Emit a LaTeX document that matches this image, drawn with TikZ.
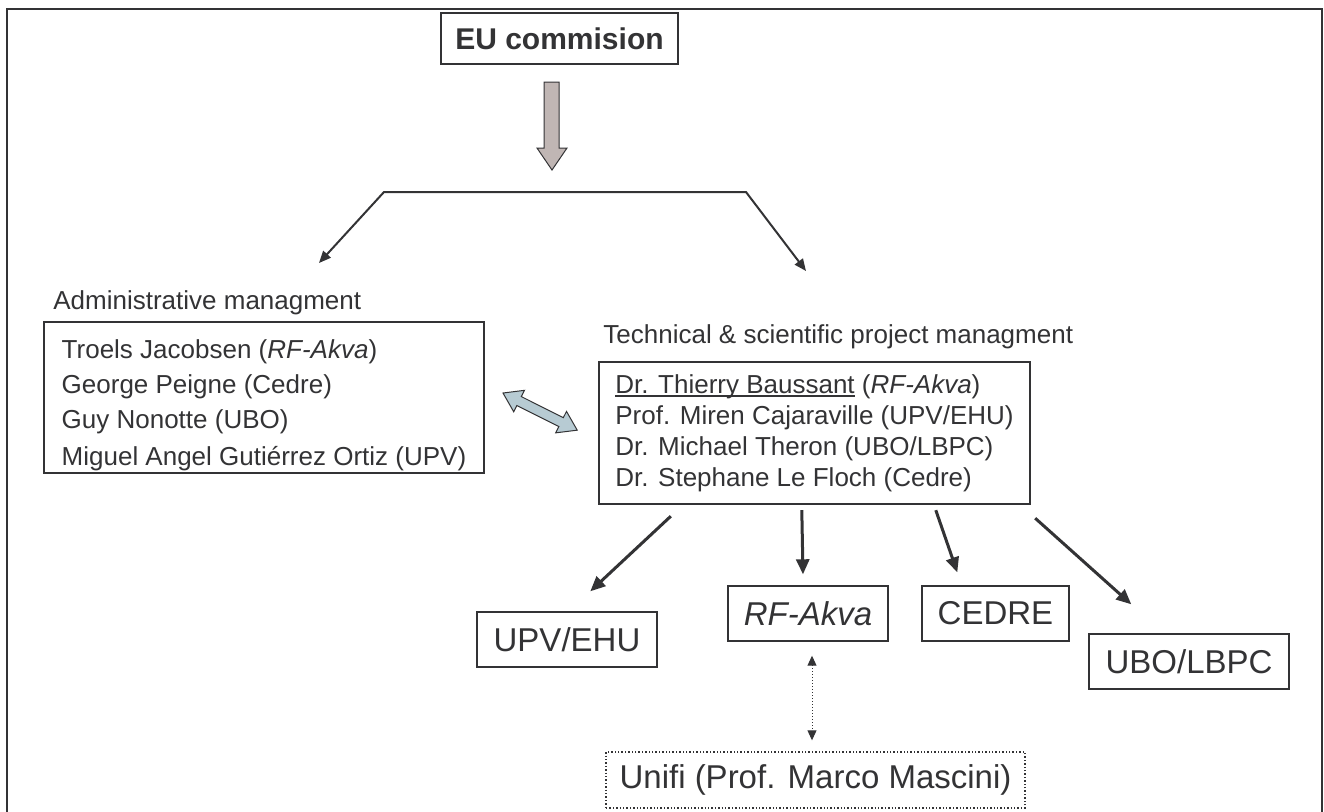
\documentclass[tikz,border=0pt]{standalone}
\usepackage{fontspec}
\setmainfont{Liberation Sans}
\usetikzlibrary{arrows.meta,calc}
\definecolor{ink}{RGB}{51,51,53}
\definecolor{greyarrow}{RGB}{192,182,180}
\definecolor{bluearrow}{RGB}{183,203,211}
\newcommand{\undertext}[1]{\leavevmode\setbox0\hbox{#1}\rlap{\rule[-1.7pt]{\wd0}{0.6pt}}\box0\relax}

\begin{document}
\begin{tikzpicture}[x=0.5pt, y=-0.5pt, color=ink, text=ink,
  box/.style = {draw, line width=0.7pt, inner sep=0pt, minimum height=27.5pt, font=\fontsize{16.5}{20}\selectfont},
  bigbox/.style = {draw, inner sep=0pt, align=left},
  lbl/.style = {anchor=west, inner sep=0pt, font=\fontsize{13}{15.5}\selectfont},
  main/.style = {line width=1.5pt, -{Triangle[length=7.5pt,width=6.5pt]}},
  split/.style = {line width=1pt, {Triangle[length=6pt,width=5pt]}-{Triangle[length=6pt,width=5pt]}},
  link/.style = {line width=0.5pt, densely dotted, {Triangle[length=5pt,width=4.5pt]}-{Triangle[length=5pt,width=4.5pt]}}]
\useasboundingbox (0,0) rectangle (1324,811);
\draw[line width=1.2pt] (7,9) rectangle (1322,830);

% top
\node[box, font=\bfseries\fontsize{15}{18}\selectfont, minimum width=118.5pt, minimum height=25.5pt] (eu) at (559.5,38.5) {EU commision};
\draw[line width=0.5pt, fill=greyarrow] (544,82) -- (559,82) -- (559,148) -- (567,148) -- (552,170) -- (537,148) -- (544,148) -- cycle;
\coordinate (bl) at (384,192);
\coordinate (br) at (746,192);
\coordinate (toadmin) at (319,263);
\coordinate (totech) at (806,271);
\draw[split] (toadmin) -- (bl) -- (br) -- (totech);

% management
\node[lbl] (adminlbl) at (53,303) {Administrative managment};
\node[bigbox, line width=1pt, minimum width=220.25pt, minimum height=75.5pt, font=\fontsize{13}{17.5}\selectfont] (admin) at (264,397.5)
  {\rule{0pt}{17pt}Troels Jacobsen (\textit{RF-Akva})\\ George Peigne (Cedre)\\ Guy Nonotte (UBO)\\[1pt] Miguel Angel Guti\'errez Ortiz (UPV)};
\node[lbl] (techlbl) at (603,337) {Technical \& scientific project managment};
\node[bigbox, line width=1.2pt, minimum width=215.5pt, minimum height=71pt, font=\fontsize{13}{15.5}\selectfont] (tech) at (814.5,433)
  {\undertext{Dr. Thierry Baussant} (\textit{RF-Akva})\\ Prof. Miren Cajaraville (UPV/EHU)\\ Dr. Michael Theron (UBO/LBPC)\\ Dr. Stephane Le Floch (Cedre)};
\begin{scope}[shift={(503,393)}, rotate=-26.6]
  \draw[line width=0.5pt, fill=bluearrow] (0,0) -- (18,-12) -- (18,-5) -- (65,-5) -- (65,-12) -- (83,0) -- (65,12) -- (65,5) -- (18,5) -- (18,12) -- cycle;
\end{scope}

% partners
\node[box, minimum width=90pt] (upv) at (567,639.5) {UPV/EHU};
\node[box, minimum width=80pt] (rfakva) at (808,613.5) {\textit{RF-Akva}};
\node[box, minimum width=73.5pt] (cedre) at (995.5,613.5) {CEDRE};
\node[box, minimum width=100pt] (ubo) at (1189,661.5) {UBO/LBPC};
\node[box, densely dotted, minimum width=209.5pt, minimum height=28pt] (unifi) at (815.5,780) {Unifi (Prof. Marco Mascini)};

\draw[main] ($(tech.south west)+(73,11)$) -- ($(upv.north west)+(114,-20)$);
\draw[main] ($(tech.south west)+(204,5)$) -- ($(rfakva.north)+(-5,-11)$);
\draw[main] ($(tech.south west)+(338,5)$) -- ($(cedre.north west)+(36,-13)$);
\draw[main] ($(tech.south east)+(4,13)$) -- ($(ubo.north west)+(43,-29)$);
\draw[link] ($(rfakva.south)+(4,14)$) -- ($(unifi.north)+(-3.5,-11)$);
\end{tikzpicture}
\end{document}
